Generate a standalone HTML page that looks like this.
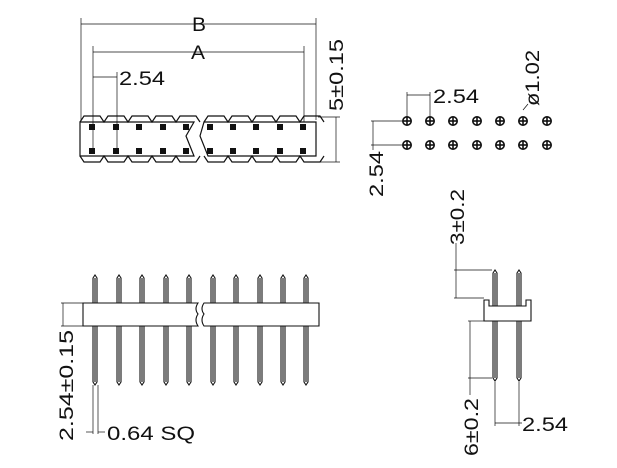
<!DOCTYPE html>
<html><head><style>body{margin:0;background:#fff}svg{display:block}text{font-family:"Liberation Sans",sans-serif;font-size:19px;fill:#111}</style></head><body>
<svg width="617" height="468" viewBox="0 0 617 468" xmlns="http://www.w3.org/2000/svg" stroke="#111" fill="none" stroke-width="1">
<!-- top-left view dims -->
<g stroke-width="0.7">
<line x1="81" y1="18" x2="81" y2="120"/><line x1="316" y1="18" x2="316" y2="120"/>
<line x1="81" y1="24" x2="316" y2="24"/>
<line x1="93" y1="46" x2="93" y2="150"/><line x1="304" y1="46" x2="304" y2="122"/>
<line x1="93" y1="52" x2="304" y2="52"/>
<line x1="117" y1="72" x2="117" y2="150"/>
<line x1="93" y1="77" x2="117" y2="77"/>
<line x1="318" y1="117" x2="340" y2="117"/><line x1="318" y1="162" x2="340" y2="162"/>
<line x1="336" y1="117" x2="336" y2="162"/>
</g>
<text x="192" y="31" stroke="none" textLength="14" lengthAdjust="spacingAndGlyphs">B</text>
<text x="191" y="59" stroke="none" textLength="14" lengthAdjust="spacingAndGlyphs">A</text>
<text x="119" y="85" stroke="none" textLength="46" lengthAdjust="spacingAndGlyphs">2.54</text>
<text transform="translate(343,111) rotate(-90)" stroke="none" textLength="72" lengthAdjust="spacingAndGlyphs">5±0.15</text>
<!-- body -->
<g stroke-width="1.2">
<path d="M80 122 L194 122 L186 136 L194 156 L80 156 Z"/>
<path d="M204 122 L316 122 L316 156 L208 156 L200 136 Z"/>
<path d="M80 122 l4-6 h16 l4 6 l4-6 h16 l4 6 l4-6 h16 l4 6 l4-6 h16 l4 6 l4-6 h16 l4 6"/>
<path d="M204 122 l4-6 h16 l4 6 l4-6 h16 l4 6 l4-6 h16 l4 6 l4-6 h16 l4 6 l4-6 h16 l4 6"/>
<path d="M80 156 l4 6 h16 l4-6 l4 6 h16 l4-6 l4 6 h16 l4-6 l4 6 h16 l4-6 l4 6 h16 l4-6"/>
<path d="M204 156 l4 6 h16 l4-6 l4 6 h16 l4-6 l4 6 h16 l4-6 l4 6 h16 l4-6 l4 6 h16 l4-6"/>
</g>
<g fill="#111" stroke="none">
<rect x="89" y="124" width="6" height="6"/><rect x="113" y="124" width="6" height="6"/><rect x="136" y="124" width="6" height="6"/><rect x="160" y="124" width="6" height="6"/><rect x="183" y="124" width="6" height="6"/><rect x="207" y="124" width="6" height="6"/><rect x="230" y="124" width="6" height="6"/><rect x="253" y="124" width="6" height="6"/><rect x="277" y="124" width="6" height="6"/><rect x="300" y="124" width="6" height="6"/>
<rect x="89" y="148" width="6" height="6"/><rect x="113" y="148" width="6" height="6"/><rect x="136" y="148" width="6" height="6"/><rect x="160" y="148" width="6" height="6"/><rect x="183" y="148" width="6" height="6"/><rect x="207" y="148" width="6" height="6"/><rect x="230" y="148" width="6" height="6"/><rect x="253" y="148" width="6" height="6"/><rect x="277" y="148" width="6" height="6"/><rect x="300" y="148" width="6" height="6"/>
</g>
<!-- holes -->
<g stroke-width="1.6">
<g id="h"><circle cx="407" cy="121" r="4.2"/><line x1="403" y1="121" x2="411" y2="121"/><line x1="407" y1="117" x2="407" y2="125"/></g>
<use href="#h" x="23"/><use href="#h" x="46"/><use href="#h" x="70"/><use href="#h" x="93"/><use href="#h" x="116"/><use href="#h" x="140"/>
<use href="#h" y="24"/><use href="#h" x="23" y="24"/><use href="#h" x="46" y="24"/><use href="#h" x="70" y="24"/><use href="#h" x="93" y="24"/><use href="#h" x="116" y="24"/><use href="#h" x="140" y="24"/>
</g>
<g stroke-width="0.7">
<line x1="407" y1="92" x2="407" y2="117"/><line x1="430" y1="92" x2="430" y2="117"/><line x1="407" y1="95" x2="430" y2="95"/>
<line x1="371" y1="121" x2="402" y2="121"/><line x1="371" y1="145" x2="402" y2="145"/><line x1="373" y1="121" x2="373" y2="150"/>
<line x1="523" y1="110" x2="528" y2="104"/>
</g>
<text x="433" y="103" stroke="none" textLength="46" lengthAdjust="spacingAndGlyphs">2.54</text>
<text transform="translate(383,197) rotate(-90)" stroke="none" textLength="46" lengthAdjust="spacingAndGlyphs">2.54</text>
<text transform="translate(539,106) rotate(-90)" stroke="none" textLength="56" lengthAdjust="spacingAndGlyphs">ø1.02</text>
<!-- bottom-left -->
<g stroke-width="1.1">
<g id="p"><path d="M93 382 V278 l2-3 l2 3 V382 l-2 3 Z"/><line x1="95" y1="278" x2="95" y2="382"/></g>
<use href="#p" x="24"/><use href="#p" x="47"/><use href="#p" x="71"/><use href="#p" x="94"/><use href="#p" x="118"/><use href="#p" x="141"/><use href="#p" x="165"/><use href="#p" x="188"/><use href="#p" x="211"/>
<path d="M83 303 H198 q-4 6 0 11 q-4 6 0 12 H83 Z" fill="#fff"/>
<path d="M204 303 H319 V326 H204 q-4-6 0-12 q-4-5 0-11 Z" fill="#fff"/>
</g>
<g stroke-width="0.7">
<line x1="61" y1="303" x2="83" y2="303"/><line x1="61" y1="326" x2="83" y2="326"/><line x1="63" y1="303" x2="63" y2="326"/>
<line x1="93" y1="385" x2="93" y2="434"/><line x1="98" y1="385" x2="98" y2="434"/>
<line x1="86" y1="432" x2="93" y2="432"/><line x1="98" y1="432" x2="105" y2="432"/>
</g>
<text transform="translate(73,441) rotate(-90)" stroke="none" textLength="111" lengthAdjust="spacingAndGlyphs">2.54±0.15</text>
<text x="107" y="440" stroke="none" textLength="88" lengthAdjust="spacingAndGlyphs">0.64  SQ</text>
<!-- side view -->
<g stroke-width="1.1">
<path d="M493 378 V273 l2-3 l2 3 V378 l-2 3 Z"/><line x1="495" y1="273" x2="495" y2="378"/>
<path d="M517 378 V273 l2-3 l2 3 V378 l-2 3 Z"/><line x1="519" y1="273" x2="519" y2="378"/>
<path d="M484 300 H489 V306 H526 V300 H531 V321 H484 Z" fill="#fff"/>
</g>
<g stroke-width="0.7">
<line x1="454" y1="270" x2="492" y2="270"/><line x1="454" y1="298" x2="484" y2="298"/><line x1="456" y1="243" x2="456" y2="298"/>
<line x1="468" y1="321" x2="484" y2="321"/><line x1="468" y1="378" x2="492" y2="378"/><line x1="470" y1="321" x2="470" y2="395"/>
<line x1="495" y1="382" x2="495" y2="426"/><line x1="519" y1="382" x2="519" y2="426"/><line x1="495" y1="423" x2="522" y2="423"/>
</g>
<text transform="translate(464,245) rotate(-90)" stroke="none" textLength="56" lengthAdjust="spacingAndGlyphs">3±0.2</text>
<text transform="translate(478,456) rotate(-90)" stroke="none" textLength="58" lengthAdjust="spacingAndGlyphs">6±0.2</text>
<text x="522" y="431" stroke="none" textLength="46" lengthAdjust="spacingAndGlyphs">2.54</text>
</svg>
</body></html>
